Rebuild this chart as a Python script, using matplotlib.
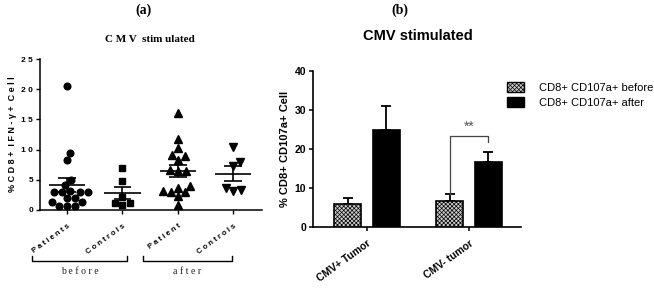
import numpy as np
import matplotlib
matplotlib.use('Agg')
import matplotlib.pyplot as plt
from matplotlib.patches import Patch
from matplotlib.lines import Line2D

# ---------------- data: panel (a) ----------------
groups_a = ["Patients", "Controls", "Patient", "Controls"]
phases_a = ["before", "after"]
patients_before = [20.5, 9.5, 8.3, 5.0, 4.2, 3.2, 3.0, 3.0, 3.0, 2.9, 2.0, 2.0, 1.3, 1.3, 0.7, 0.6, 0.6]
controls_before = [6.9, 4.8, 2.2, 1.2, 0.8, 1.2]
patients_after = [16.0, 11.7, 10.2, 9.1, 8.9, 8.3, 6.6, 6.5, 6.4, 3.9, 3.6, 3.1, 3.0, 2.9, 2.3, 0.8]
controls_after = [10.5, 8.0, 7.3, 3.6, 3.2, 3.3]
yticks_a = [0, 5, 10, 15, 20, 25]

# ---------------- data: panel (b) ----------------
categories_b = ["CMV+ Tumor", "CMV- tumor"]
series_b = ["CD8+ CD107a+ before", "CD8+ CD107a+ after"]
before_mean = [5.9, 6.6]
before_sem = [1.6, 1.8]
after_mean = [25.0, 16.7]
after_sem = [6.0, 2.5]
yticks_b = [0, 10, 20, 30, 40]

W, H = 654, 293
fig = plt.figure(figsize=(W / 100, H / 100), dpi=100)


def fx(p):
    return p / W


def fy(p):
    return 1 - p / H


SANS = 'Liberation Sans'
SERIF = 'Liberation Serif'

# ================= panel (a) =================
axA = fig.add_axes([fx(40), fy(210), fx(262) - fx(40), fy(59) - fy(210)])
axA.set_xlim(-0.49, 3.52)
axA.set_ylim(0, 25)
px_x = 222 / (3.52 + 0.49)
px_y = 151 / 25.0


def swarm_offsets(ys, d):
    ys = np.asarray(ys, dtype=float)
    order = np.argsort(ys)
    placed = []
    offs = np.zeros(len(ys))
    for i in order:
        yp = ys[i] * px_y
        best = None
        k = 0
        while best is None:
            cands = [0.0] if k == 0 else [k * 0.5, -k * 0.5]
            for s in cands:
                if all((s - xp) ** 2 + (yp - yq) ** 2 >= d * d for xp, yq in placed):
                    best = s
                    break
            k += 1
        placed.append((best, yp))
        offs[i] = best / px_x
    return offs


data_a = [patients_before, controls_before, patients_after, controls_after]
markers = ['o', 's', '^', 'v']
msizes = [4.8, 4.6, 5.3, 5.3]
for i, (vals, m, ms) in enumerate(zip(data_a, markers, msizes)):
    vals = np.asarray(vals)
    offs = swarm_offsets(vals, 7.6)
    axA.plot(i + offs, vals, linestyle='none', marker=m, ms=ms, color='black', clip_on=False, zorder=3)
    mean = vals.mean()
    sem = vals.std(ddof=1) / np.sqrt(len(vals))
    axA.hlines(mean, i - 0.33, i + 0.33, color='black', lw=1.2, zorder=4)
    axA.vlines(i, mean - sem, mean + sem, color='black', lw=1.2, zorder=4)
    axA.hlines([mean - sem, mean + sem], i - 0.16, i + 0.16, color='black', lw=1.2, zorder=4)

for s in ['top', 'right']:
    axA.spines[s].set_visible(False)
for s in ['left', 'bottom']:
    axA.spines[s].set_linewidth(1.1)
axA.set_yticks(yticks_a, [" ".join(str(t)) for t in yticks_a],
               fontsize=6, fontweight='bold', family=SANS)
axA.set_xticks(range(len(groups_a)), [" ".join(g) for g in groups_a],
               fontsize=5.5, fontweight='bold', family=SANS,
               rotation=36, ha='right', rotation_mode='anchor')
axA.tick_params(axis='both', length=3, width=1, pad=2)
axA.tick_params(axis='x', pad=6)
axA.set_ylabel("% C D 8 +  I F N - \u03b3 +  C e l l", fontsize=6.5, fontweight='bold',
               family=SANS, labelpad=3)

# brackets below x labels
for (x0, x1), lab in zip([(32, 127), (143, 232)], phases_a):
    fig.add_artist(Line2D([fx(x0), fx(x0), fx(x1), fx(x1)],
                          [fy(256), fy(261), fy(261), fy(256)],
                          transform=fig.transFigure, color='black', lw=1))
    fig.text(fx((x0 + x1) / 2), fy(271), " ".join(lab), ha='center', va='center',
             fontsize=7, family=SERIF, color='#222222')

fig.text(fx(144), fy(10), "(a)", ha='center', va='center', fontsize=10,
         fontweight='bold', family=SERIF)
fig.text(fx(150), fy(40), "C M V  stim ulated", ha='center', va='center', fontsize=8,
         fontweight='bold', family=SERIF)

# ================= panel (b) =================
axB = fig.add_axes([fx(313), fy(227), (521 - 313) / W, (227 - 71) / H])
axB.set_xlim(-0.53, 1.51)
axB.set_ylim(0, 40)
x = np.arange(len(categories_b))
off, bw = 0.19, 0.265
plt.rcParams['hatch.linewidth'] = 0.5
HATCH = 'xxxxxxxx'
axB.bar(x - off, before_mean, bw, facecolor='#cccccc', edgecolor='black',
        hatch=HATCH, linewidth=1.2, zorder=3)
axB.bar(x + off, after_mean, bw, facecolor='black', edgecolor='black',
        linewidth=1.2, zorder=3)
axB.errorbar(x - off, before_mean, yerr=[np.zeros(len(x)), before_sem], fmt='none',
             ecolor='black', elinewidth=1.3, capsize=3.5, capthick=1.3, zorder=2)
axB.errorbar(x + off, after_mean, yerr=[np.zeros(len(x)), after_sem], fmt='none',
             ecolor='black', elinewidth=1.3, capsize=3.5, capthick=1.3, zorder=2)

for s in ['top', 'right']:
    axB.spines[s].set_visible(False)
for s in ['left', 'bottom']:
    axB.spines[s].set_linewidth(1.2)
axB.set_yticks(yticks_b, [str(t) for t in yticks_b], fontsize=7.5, fontweight='bold', family=SANS)
axB.set_xticks(x, categories_b, fontsize=7.5, fontweight='bold', family=SANS,
               rotation=36, ha='right', rotation_mode='anchor')
axB.tick_params(axis='both', length=3, width=1.1, pad=2)
axB.tick_params(axis='x', pad=5)
axB.set_ylabel("% CD8+ CD107a+ Cell", fontsize=8, fontweight='bold', family=SANS, labelpad=3)

# significance bracket
y_lo_left = before_mean[1] + before_sem[1]
axB.plot([1 - off, 1 - off, 1 + off, 1 + off], [y_lo_left, 23.4, 23.4, 21.9],
         color='#444444', lw=0.9, zorder=4)
axB.text(1, 25.6, "**", ha='center', va='center', fontsize=10, color='#555555', family=SANS)

handles = [Patch(facecolor='#cccccc', edgecolor='black', hatch=HATCH, linewidth=1),
           Patch(facecolor='black', edgecolor='black', linewidth=1)]
fig.legend(handles, series_b, loc='upper left', bbox_to_anchor=(fx(503), fy(78)),
           frameon=False, prop={'family': SANS, 'size': 8}, handlelength=1.5,
           handleheight=1.0, handletextpad=1.3, labelspacing=0.35, borderaxespad=0)

fig.text(fx(400), fy(10), "(b)", ha='center', va='center', fontsize=10,
         fontweight='bold', family=SERIF)
fig.text(fx(418), fy(36), "CMV stimulated", ha='center', va='center', fontsize=10.5,
         fontweight='bold', family=SANS)

fig.savefig("out.png", dpi=100)
